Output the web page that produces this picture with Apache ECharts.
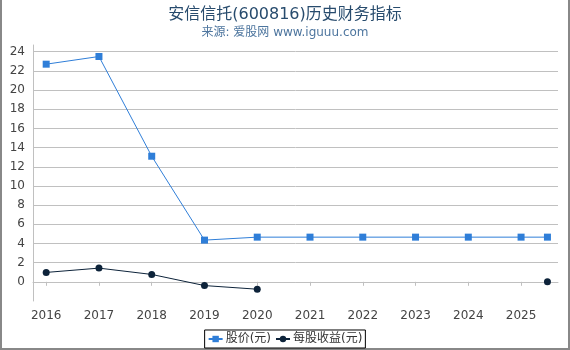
<!DOCTYPE html>
<html>
<head>
<meta charset="utf-8">
<style>
  html, body { margin: 0; padding: 0; background: #fff; }
  #chart { width: 570px; height: 350px; }
</style>
<script src="https://cdn.jsdelivr.net/npm/echarts@6/dist/echarts.min.js"></script>
</head>
<body>
<div id="chart"></div>
<script>
var years = [2016, 2017, 2018, 2019, 2020, 2021, 2022, 2023, 2024, 2025, 2025.5];
var tickYears = [2016, 2017, 2018, 2019, 2020, 2021, 2022, 2023, 2024, 2025];
var yTicks = [0, 2, 4, 6, 8, 10, 12, 14, 16, 18, 20, 22, 24];
var price = [22.7, 23.5, 13.1, 4.35, 4.66, 4.66, 4.66, 4.66, 4.66, 4.66, 4.66];
var eps = [0.98, 1.43, 0.77, -0.39, -0.77, null, null, null, null, null, 0];
var seriesNames = ['股价(元)', '每股收益(元)'];

function pairs(xs, ys) {
  return xs.map(function (x, i) { return [x, ys[i]]; });
}

var chart = echarts.init(document.getElementById('chart'), null, { renderer: 'canvas' });
var font = 'DejaVu Sans, Noto Sans CJK SC, sans-serif';
chart.setOption({
  animation: false,
  textStyle: { fontFamily: font },
  title: {
    text: '安信信托(600816)历史财务指标',
    subtext: '来源: 爱股网 www.iguuu.com',
    left: 'center',
    top: 2,
    itemGap: 4,
    textStyle: { fontSize: 16, fontWeight: 'normal', color: '#274b6d', fontFamily: font },
    subtextStyle: { fontSize: 12, color: '#4d759e', fontFamily: font }
  },
  legend: {
    bottom: 2,
    left: 'center',
    borderColor: '#000',
    borderWidth: 1,
    borderRadius: 0,
    padding: [3, 3, 3, 3],
    itemGap: 4,
    itemWidth: 14,
    itemHeight: 8,
    textStyle: { fontSize: 12, color: '#333', fontFamily: font, padding: [0, 0, 0, -2] },
    data: seriesNames
  },
  graphic: [{
    type: 'rect',
    shape: { x: 1, y: -2, width: 568, height: 351 },
    style: { fill: 'none', stroke: '#888', lineWidth: 2 },
    silent: true
  }],
  grid: { left: 33, right: 12, top: 45, bottom: 49, outerBoundsMode: 'none', containLabel: false },
  xAxis: {
    type: 'value',
    min: 2015.75,
    max: 2025.7,
    offset: 3,
    axisLine: { show: true, lineStyle: { color: '#C0C0C0' } },
    axisTick: { show: true, length: 4, customValues: tickYears, lineStyle: { color: '#C0C0C0' } },
    axisLabel: { customValues: tickYears, color: '#444', fontSize: 12, margin: 6, fontFamily: font,
      formatter: function (v) { return String(v); } },
    splitLine: { show: false }
  },
  yAxis: {
    type: 'value',
    min: -2,
    max: 24.7,
    interval: 2,
    axisLine: { show: true, lineStyle: { color: '#C0C0C0' } },
    axisTick: { show: false },
    axisLabel: {
      customValues: yTicks,
      color: '#444', fontSize: 12, margin: 8, fontFamily: font,
      formatter: function (v) { return String(v); }
    },
    splitLine: { show: true, showMinLine: false, showMaxLine: false, lineStyle: { color: '#C0C0C0' } }
  },
  series: [{
    name: seriesNames[0],
    type: 'line',
    data: pairs(years, price),
    symbol: 'rect',
    symbolSize: 7,
    lineStyle: { width: 1, color: '#2f7ed8' },
    itemStyle: { color: '#2f7ed8' }
  }, {
    name: seriesNames[1],
    type: 'line',
    data: pairs(years, eps),
    connectNulls: false,
    symbol: 'circle',
    symbolSize: 7,
    lineStyle: { width: 1, color: '#0d233a' },
    itemStyle: { color: '#0d233a' }
  }]
});
</script>
</body>
</html>
